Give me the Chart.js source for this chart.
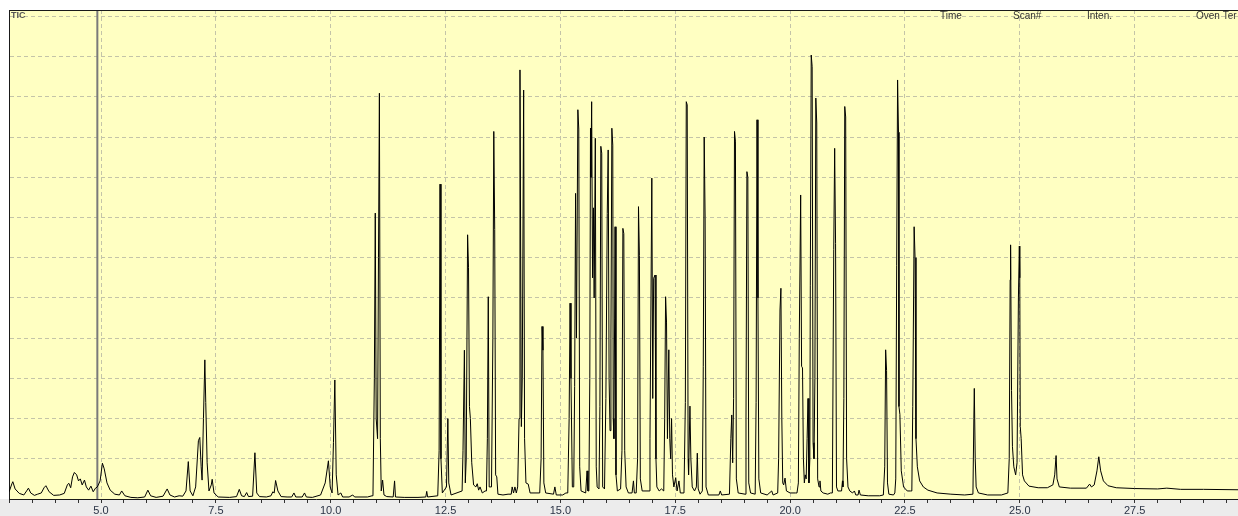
<!DOCTYPE html>
<html>
<head>
<meta charset="utf-8">
<script src="https://cdn.jsdelivr.net/npm/chart.js@4"></script>
<style>
    html, body { margin: 0; padding: 0; background: #ffffff; }
    #wrap { width: 1238px; height: 516px; position: relative; }
</style>
</head>
<body>
<div id="wrap"><canvas id="ticChart"></canvas></div>
<script>
// TIC trace, [retention time (min), intensity (grid units)]
const traceEarly = [
    [3.00,0.18],[3.06,0.38],[3.08,0.43],[3.13,0.25],[3.22,0.14],[3.32,0.10],[3.38,0.20],[3.42,0.27],
    [3.47,0.15],[3.55,0.09],[3.62,0.12],[3.70,0.15],[3.76,0.28],[3.80,0.33],[3.87,0.18],[3.97,0.09],
    [4.10,0.10],[4.20,0.14],[4.27,0.36],[4.30,0.39],[4.34,0.28],[4.38,0.55],[4.42,0.66],[4.47,0.60],
    [4.51,0.45],[4.55,0.50],[4.59,0.35],[4.64,0.47],[4.68,0.30],[4.73,0.22],[4.78,0.32],[4.83,0.18],
    [4.88,0.27],[4.92,0.30],[4.98,0.45],[5.03,0.89],[5.07,0.75],[5.13,0.40],[5.20,0.22],[5.30,0.12],
    [5.40,0.10],[5.45,0.20],[5.52,0.08],[5.65,0.04],[5.80,0.03],[5.95,0.05],[6.02,0.22],[6.08,0.08],
    [6.20,0.04],[6.35,0.07],[6.44,0.25],[6.50,0.10],[6.60,0.05],[6.70,0.08],[6.78,0.07],[6.85,0.20],
    [6.90,0.93],[6.94,0.20],[7.00,0.08],[7.06,0.30],[7.12,1.45],[7.15,1.53],[7.18,0.80],[7.20,0.47],
    [7.23,2.00],[7.26,3.46],[7.28,2.40],[7.31,0.90],[7.35,0.20],[7.40,0.35],[7.42,0.49],[7.46,0.15],
    [7.55,0.05],[7.80,0.04],[7.95,0.06],[8.01,0.24],[8.06,0.08],[8.12,0.06],[8.17,0.16],[8.21,0.06],
    [8.30,0.07],[8.35,1.15],[8.39,0.15],[8.45,0.06],[8.60,0.05],[8.70,0.08],[8.74,0.18],[8.77,0.15],
    [8.80,0.46],[8.85,0.20],[8.92,0.06],[9.05,0.05],[9.15,0.05],[9.20,0.15],[9.24,0.05],[9.38,0.05],
    [9.43,0.15],[9.47,0.05],[9.60,0.04],[9.78,0.10],[9.88,0.40],[9.95,0.95],[9.99,0.30],[10.03,0.15],
    [10.06,1.40],[10.09,2.96],[10.12,0.60],[10.16,0.10],[10.22,0.15],[10.26,0.05],[10.40,0.05],[10.48,0.10],
    [10.52,0.05],[10.80,0.05],[10.90,0.08]
];

const traceMid = [
    [10.92,0.10],[10.95,3.00],[10.97,7.11],[10.99,2.00],[11.02,1.50],[11.04,6.00],[11.06,10.09],[11.08,1.50],
    [11.10,0.20],[11.13,0.47],[11.16,0.10],[11.22,0.06],[11.36,0.05],[11.39,0.45],[11.41,0.05],[11.60,0.04],
    [11.90,0.04],[12.07,0.05],[12.09,0.19],[12.11,0.05],[12.33,0.08],[12.36,1.20],[12.38,7.83],[12.40,1.00],
    [12.43,0.15],[12.52,0.30],[12.55,2.00],[12.57,0.40],[12.62,0.10],[12.86,0.20],[12.88,1.20],[12.91,3.70],
    [12.93,0.40],[12.95,1.00],[12.98,6.57],[13.00,5.75],[13.02,2.30],[13.04,2.00],[13.07,0.90],[13.11,0.35],
    [13.16,0.30],[13.19,0.38],[13.22,0.22],[13.25,0.30],[13.30,0.15],[13.36,0.20],[13.39,0.20],[13.41,1.50],
    [13.43,5.03],[13.45,0.30],[13.50,0.30],[13.53,4.00],[13.55,9.14],[13.57,6.70],[13.59,0.60],[13.615,0.55],
    [13.64,0.12],[13.75,0.10],[13.86,0.12],[13.93,0.12],[13.95,0.30],[13.98,0.15],[14.01,0.30],[14.04,0.15],
    [14.07,0.30],[14.10,2.00],[14.12,10.67],[14.15,1.80],[14.17,3.00],[14.20,10.17],[14.22,1.50],[14.25,0.40],
    [14.30,0.37],[14.34,0.15],[14.55,0.15],[14.58,1.00],[14.60,4.29],[14.62,3.70],[14.64,0.40],[14.68,0.15],
    [14.85,0.12],[14.88,0.30],[14.91,0.10],[15.05,0.10],[15.12,0.15]
];

const traceDense = [
    [15.16,0.15],[15.19,2.00],[15.21,4.87],[15.23,3.00],[15.26,0.30],[15.29,0.30],[15.31,2.80],[15.33,7.60],
    [15.35,4.00],[15.38,9.68],[15.40,9.20],[15.42,0.80],[15.45,0.20],[15.55,0.15],[15.58,0.70],[15.60,0.20],
    [15.62,0.20],[15.64,3.00],[15.655,9.22],[15.665,8.00],[15.68,9.88],[15.70,5.50],[15.72,7.24],[15.735,5.00],
    [15.76,8.97],[15.78,0.80],[15.80,0.30],[15.84,0.25],[15.86,2.30],[15.88,8.77],[15.90,8.60],[15.92,0.30],
    [15.96,0.25],[15.99,2.50],[16.02,7.10],[16.04,8.68],[16.06,3.00],[16.08,1.70],[16.10,4.00],[16.12,9.22],
    [16.14,8.80],[16.15,2.00],[16.165,1.50],[16.18,4.50],[16.19,6.77],[16.21,0.60],[16.24,0.20],[16.31,0.25],
    [16.34,1.20],[16.36,6.73],[16.38,6.60],[16.40,1.20],[16.43,0.30],[16.48,0.15],[16.56,0.15],[16.59,0.45],
    [16.61,0.15],[16.65,0.15],[16.68,1.00],[16.70,7.27],[16.72,6.05],[16.74,0.50],[16.78,0.20],[16.93,0.20],
    [16.95,1.50],[16.99,7.98],[17.01,2.50],[17.03,5.49],[17.06,5.57],[17.08,1.00],[17.10,0.30],[17.15,0.20],
    [17.20,0.25],[17.25,0.20],[17.27,2.00],[17.29,5.03],[17.31,4.40],[17.33,1.50],[17.36,3.71],[17.38,1.50],
    [17.40,1.00],[17.42,2.00],[17.44,0.60],[17.47,0.30],[17.51,0.53],[17.54,0.20],[17.58,0.45],[17.61,0.15],
    [17.69,0.15],[17.72,2.40],[17.74,9.88],[17.76,9.80],[17.78,1.00],[17.79,0.60],[17.82,2.31],[17.84,1.00],
    [17.87,0.30],[17.92,0.20],[17.96,0.30],[17.98,1.14],[18.00,0.25],[18.04,0.12],[18.09,0.20],[18.11,3.30],
    [18.13,9.00],[18.15,7.00],[18.17,0.30],[18.22,0.10],[18.45,0.10],[18.48,0.20],[18.51,0.10],[18.68,0.12],
    [18.71,1.50],[18.73,2.09],[18.75,0.90],[18.77,2.50],[18.79,9.14],[18.81,8.90],[18.83,0.50],[18.87,0.15],
    [19.02,0.12],[19.04,2.00],[19.06,8.14],[19.08,8.00],[19.10,0.40],[19.14,0.15],[19.24,0.12],[19.26,2.40],
    [19.28,9.43],[19.30,5.00],[19.32,0.50],[19.36,0.15],[19.50,0.10],[19.60,0.20],[19.63,0.10],[19.73,0.15],
    [19.75,1.00],[19.78,4.70],[19.80,5.24],[19.82,2.00],[19.84,0.40],[19.86,0.35],[19.89,0.52],[19.92,0.20],
    [20.00,0.15],[20.12,0.15]
];

const traceLate = [
    [20.15,0.15],[20.18,0.40],[20.20,4.00],[20.23,7.56],[20.25,3.30],[20.27,3.26],[20.29,1.00],[20.31,0.40],
    [20.33,0.60],[20.35,0.50],[20.37,1.50],[20.39,2.50],[20.41,0.40],[20.43,1.00],[20.44,5.30],[20.46,11.04],
    [20.48,10.75],[20.50,1.40],[20.52,1.00],[20.54,3.00],[20.56,9.97],[20.58,9.35],[20.60,0.50],[20.63,0.30],
    [20.65,0.45],[20.67,0.20],[20.72,0.15],[20.82,0.12],[20.88,0.15],[20.92,0.15],[20.95,6.20],[20.97,8.72],
    [20.99,6.35],[21.01,0.30],[21.04,0.20],[21.12,0.20],[21.14,0.45],[21.15,0.30],[21.17,2.50],[21.19,9.76],
    [21.21,9.50],[21.23,1.00],[21.26,0.30],[21.30,0.20],[21.36,0.15],[21.40,0.20],[21.43,0.10],[21.48,0.10],
    [21.50,0.22],[21.53,0.10],[21.70,0.08],[21.95,0.08],[22.03,0.10],[22.06,0.80],[22.08,3.71],[22.10,3.20],
    [22.12,0.40],[22.15,0.12],[22.25,0.10],[22.28,0.15],[22.30,0.50],[22.32,5.80],[22.34,10.42],[22.36,9.12],
    [22.37,2.30],[22.39,2.10],[22.42,0.70],[22.47,0.30],[22.55,0.20],[22.62,0.20],[22.65,0.20],[22.67,2.30],
    [22.70,6.77],[22.72,6.00],[22.74,1.50],[22.77,0.80],[22.82,0.45],[22.90,0.30],[23.00,0.22],[23.20,0.15],
    [23.50,0.12],[23.80,0.10],[23.98,0.12],[24.00,2.00],[24.01,2.75],[24.03,1.00],[24.05,0.30],[24.10,0.15],
    [24.30,0.10],[24.60,0.10],[24.74,0.15],[24.77,1.00],[24.79,5.45],[24.80,6.32],[24.82,2.70],[24.84,1.30],
    [24.87,0.80],[24.91,0.60],[24.94,0.90],[24.97,5.00],[24.99,6.29],[25.00,5.50],[25.01,1.80],[25.03,1.50],
    [25.06,0.60],[25.10,0.45],[25.20,0.32],[25.40,0.28],[25.60,0.28],[25.72,0.35],[25.76,0.60],[25.79,1.08],
    [25.81,0.50],[25.86,0.30],[26.10,0.27],[26.45,0.27],[26.52,0.37],[26.56,0.30],[26.62,0.35],[26.68,0.70],
    [26.72,1.05],[26.76,0.70],[26.82,0.45],[26.92,0.33],[27.10,0.28],[27.50,0.26],[28.00,0.25],[28.20,0.27],
    [28.50,0.24],[29.00,0.24],[29.75,0.23]
];

const cursorTime = 4.92;
const timeRange = [2.997, 29.75];
const intensityMax = 12.16;
const majorStep = 2.5;
const minorStep = 0.5;
const headerLabels = ['TIC', 'Time', 'Scan#', 'Inten.', 'Oven Ter'];

const toPoints = rows => rows.map(([t, v]) => ({ x: t, y: v }));
const ticPoints = toPoints([...traceEarly, ...traceMid, ...traceDense, ...traceLate]);

const isMajor = v => Math.abs(v / majorStep - Math.round(v / majorStep)) < 1e-6;

// yellow plot background, grey label strip, top frame line and the header captions
const framePlugin = {
    id: 'frame',
    beforeDraw(chart) {
        const { ctx, chartArea: a, width, height } = chart;
        ctx.save();
        ctx.fillStyle = '#ececec';
        ctx.fillRect(0, a.bottom, width, height - a.bottom);
        ctx.fillStyle = '#ffffc2';
        ctx.fillRect(a.left, a.top, a.right - a.left, a.bottom - a.top);
        ctx.restore();
    },
    afterDraw(chart) {
        const { ctx, chartArea: a } = chart;
        ctx.save();
        ctx.strokeStyle = '#1a1a1a';
        ctx.lineWidth = 1;
        ctx.beginPath();
        ctx.moveTo(a.left, a.top + 0.5);
        ctx.lineTo(a.right, a.top + 0.5);
        ctx.stroke();

        ctx.textBaseline = 'middle';
        ctx.fillStyle = '#555';
        ctx.font = 'bold 9px "Liberation Sans", Arial, sans-serif';
        ctx.fillText(headerLabels[0], a.left + 2, a.top + 6);
        ctx.fillStyle = '#333';
        ctx.font = '10px "Liberation Sans", Arial, sans-serif';
        const xs = [940, 1013, 1087, 1196];
        headerLabels.slice(1).forEach((txt, i) => ctx.fillText(txt, xs[i], a.top + 6));
        ctx.restore();
    }
};

const ctx = document.getElementById('ticChart').getContext('2d');
new Chart(ctx, {
    type: 'line',
    data: {
        datasets: [
            {
                label: 'TIC',
                data: ticPoints,
                borderColor: '#000000',
                borderWidth: 1,
                pointRadius: 0,
                tension: 0,
                fill: false
            },
            {
                label: 'cursor',
                data: [{ x: cursorTime, y: 0 }, { x: cursorTime, y: intensityMax }],
                borderColor: '#7a7a7a',
                borderWidth: 2,
                pointRadius: 0
            }
        ]
    },
    options: {
        responsive: true,
        maintainAspectRatio: false,
        animation: false,
        devicePixelRatio: 1,
        layout: { padding: { left: 9, top: 10, right: 0, bottom: 0 } },
        plugins: {
            legend: { display: false },
            tooltip: { enabled: false }
        },
        scales: {
            x: {
                type: 'linear',
                min: timeRange[0],
                max: timeRange[1],
                afterBuildTicks: scale => {
                    const ticks = [];
                    for (let v = 3.0; v <= timeRange[1] + 1e-9; v += minorStep) {
                        ticks.push({ value: Math.round(v * 10) / 10 });
                    }
                    scale.ticks = ticks;
                },
                afterFit: scale => { scale.height = 17; },
                ticks: {
                    autoSkip: false,
                    maxRotation: 0,
                    padding: 1,
                    color: '#2b3446',
                    font: { family: '"Liberation Sans", Arial, sans-serif', size: 11 },
                    callback: value => isMajor(value) ? value.toFixed(1) : ''
                },
                grid: {
                    color: c => (c.tick && isMajor(c.tick.value)) ? '#c4c4a8' : 'rgba(0,0,0,0)',
                    tickColor: '#333',
                    tickLength: 4,
                    lineWidth: 1
                },
                border: { color: '#1a1a1a', width: 1, dash: [4, 3] }
            },
            y: {
                min: 0,
                max: intensityMax,
                afterBuildTicks: scale => {
                    scale.ticks = Array.from({ length: 13 }, (_, i) => ({ value: i }));
                },
                afterFit: scale => { scale.width = 0; },
                ticks: { display: false },
                grid: { color: '#c4c4a8', drawTicks: false, tickLength: 0 },
                border: { color: '#1a1a1a', width: 1, dash: [4, 3] }
            }
        }
    },
    plugins: [framePlugin]
});
</script>
</body>
</html>
